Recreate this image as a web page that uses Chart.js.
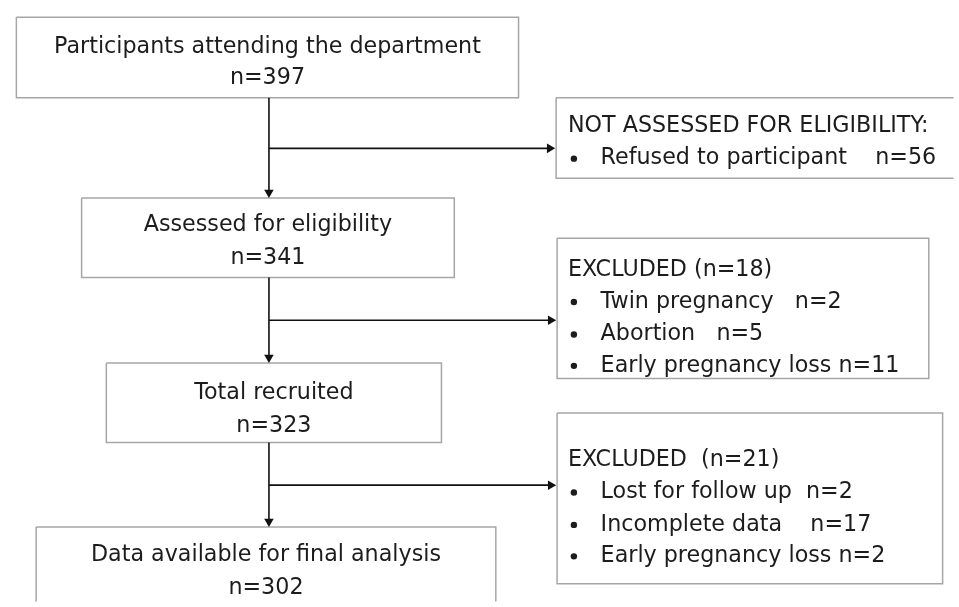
<!DOCTYPE html>
<html>
<head>
<meta charset="utf-8">
<script src="https://cdn.jsdelivr.net/npm/chart.js@4.4.1/dist/chart.umd.min.js"></script>
<style>
  html, body { margin: 0; padding: 0; background: #ffffff; }
  #c { display: block; }
</style>
</head>
<body>
<canvas id="c" width="959" height="607"></canvas>
<script>
// ---- DATA ----
const stageLabels = [
  "Participants attending the department",
  "Assessed for eligibility",
  "Total recruited",
  "Data available for final analysis"
];
const stageCounts = [397, 341, 323, 302];

const exclusionHeaders = ["NOT ASSESSED FOR ELIGIBILITY:", "EXCLUDED (n=18)", "EXCLUDED  (n=21)"];
const exclusionReasons = [
  ["Refused to participant"],
  ["Twin pregnancy", "Abortion", "Early pregnancy loss"],
  ["Lost for follow up", "Incomplete data", "Early pregnancy loss"]
];
const exclusionCounts = [
  [56],
  [2, 5, 11],
  [2, 17, 2]
];

// ---- LAYOUT (positions / sizes, in axis units = px) ----
const W = 959, H = 607;
const stageBoxes = [          // [x0, y0, x1, y1]
  [11, 12, 519, 94],
  [77, 196, 454, 277],
  [102, 364, 441, 445],
  [31, 531, 496, 650]
];
const stageLineY = [[42, 74], [224, 257], [395, 428], [560, 593]];
const exclBoxes = [
  [557, 94, 965, 176],
  [558, 237, 934, 380],
  [558, 415, 948, 589]
];
const exclLineY = [[123, 156], [270, 302, 335, 367], [463, 496, 529, 561]];
const reasonGaps = [["    "], ["   ", "   ", " "], ["  ", "    ", " "]];
const headerX = 569, bulletX = 575, reasonX = 602;
const spineX = 266.5;
const branchY = [145.5, 320.5, 488.5];
const arrowR = 5.5;

const FONT = '"DejaVu Sans", "Noto Sans", sans-serif';
const TARGET_W = 427;        // width of the first stage label in the reference
const BOX_COLOR = '#a6a6a6';
const LINE_COLOR = '#111111';

// ---- build datasets ----
function rectPts(b) {
  return [{x:b[0],y:b[1]},{x:b[2],y:b[1]},{x:b[2],y:b[3]},{x:b[0],y:b[3]},{x:b[0],y:b[1]}];
}
const datasets = [];
[...stageBoxes, ...exclBoxes].forEach(b => {
  datasets.push({
    type: 'line', data: rectPts(b), borderColor: BOX_COLOR, borderWidth: 1.5,
    pointRadius: 0, fill: false, tension: 0, order: 2
  });
});
function arrow(x0, y0, x1, y1, rot) {
  const dx = Math.sign(x1 - x0), dy = Math.sign(y1 - y0);
  const ex = x1 - dx * arrowR, ey = y1 - dy * arrowR;
  datasets.push({
    type: 'line', data: [{x:x0,y:y0},{x:ex,y:ey}], borderColor: LINE_COLOR, borderWidth: 1.6,
    pointRadius: [0, arrowR], pointStyle: 'triangle', pointRotation: [0, rot],
    pointBackgroundColor: LINE_COLOR, pointBorderColor: LINE_COLOR, pointBorderWidth: 0,
    fill: false, tension: 0, order: 1
  });
}
for (let i = 0; i < stageBoxes.length - 1; i++) {
  arrow(spineX, stageBoxes[i][3], spineX, stageBoxes[i + 1][1], 180);
}
for (let i = 0; i < exclBoxes.length; i++) {
  arrow(spineX, branchY[i], exclBoxes[i][0] - 1, branchY[i], 90);
}

const textPlugin = {
  id: 'flowText',
  afterDatasetsDraw(chart) {
    const ctx = chart.ctx, xs = chart.scales.x, ys = chart.scales.y;
    ctx.save();
    ctx.font = `20px ${FONT}`;
    const fs = 20 * TARGET_W / ctx.measureText(stageLabels[0]).width;
    ctx.font = `${fs.toFixed(2)}px ${FONT}`;
    ctx.fillStyle = '#1c1c1c';
    ctx.textBaseline = 'middle';
    ctx.textAlign = 'center';
    stageBoxes.forEach((b, i) => {
      const cx = xs.getPixelForValue((b[0] + b[2]) / 2);
      ctx.fillText(stageLabels[i], cx, ys.getPixelForValue(stageLineY[i][0]));
      ctx.fillText('n=' + stageCounts[i], cx, ys.getPixelForValue(stageLineY[i][1]));
    });
    ctx.textAlign = 'left';
    exclBoxes.forEach((b, i) => {
      const ly = exclLineY[i];
      ctx.fillText(exclusionHeaders[i], xs.getPixelForValue(headerX), ys.getPixelForValue(ly[0]));
      exclusionReasons[i].forEach((r, j) => {
        const y = ys.getPixelForValue(ly[j + 1]);
        ctx.beginPath();
        ctx.arc(xs.getPixelForValue(bulletX), y, 3.2, 0, Math.PI * 2);
        ctx.fill();
        ctx.fillText(r + reasonGaps[i][j] + 'n=' + exclusionCounts[i][j], xs.getPixelForValue(reasonX), y);
      });
    });
    ctx.restore();
  }
};

new Chart(document.getElementById('c'), {
  type: 'scatter',
  data: { datasets },
  options: {
    responsive: false,
    animation: false,
    events: [],
    layout: { padding: 0 },
    plugins: { legend: { display: false }, tooltip: { enabled: false } },
    scales: {
      x: { type: 'linear', min: 0, max: W, display: false },
      y: { type: 'linear', min: 0, max: H, reverse: true, display: false }
    }
  },
  plugins: [textPlugin]
});
</script>
</body>
</html>
